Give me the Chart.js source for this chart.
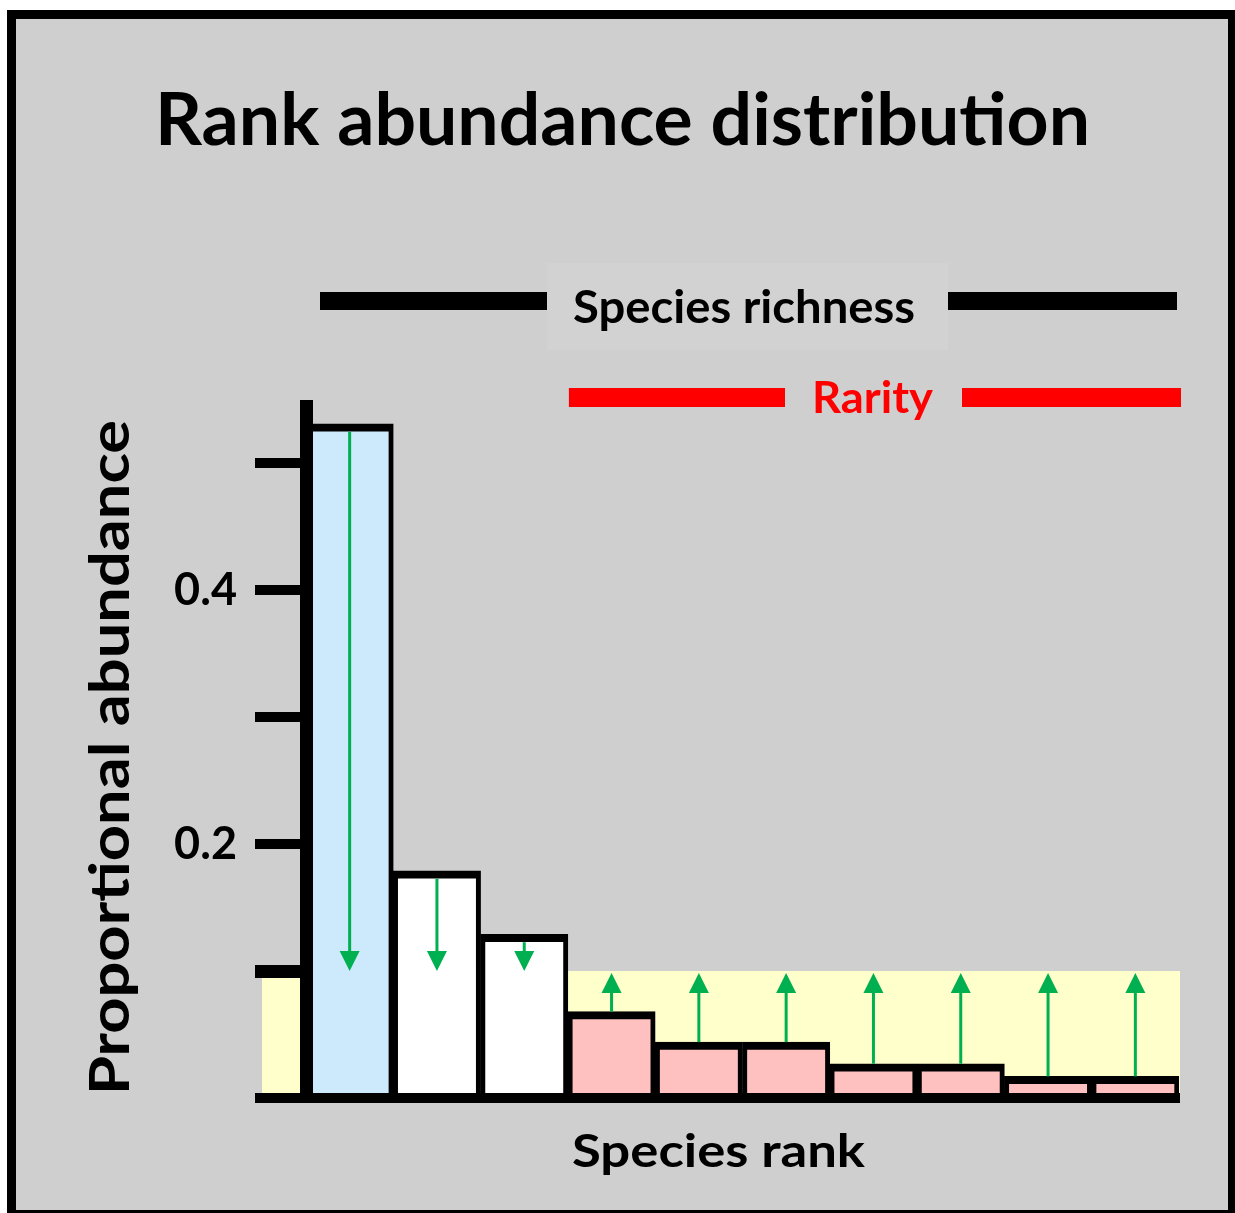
<!DOCTYPE html>
<html>
<head>
<meta charset="utf-8">
<script src="https://cdn.jsdelivr.net/npm/chart.js@4"></script>
<style>
  body { margin: 0; background: #fff; }
  #frame { position: absolute; left: 7px; top: 10px; width: 1212px; height: 1191px; border: 9px solid #000; background: #cfcfcf; }
  #chart { position: absolute; left: 0; top: 0; }
</style>
</head>
<body>
<div id="frame"></div>
<canvas id="chart" width="1235" height="1213"></canvas>
<script>
// Datos del gráfico
const ranks = ['1', '2', '3', '4', '5', '6', '7', '8', '9', '10'];
const abundance = [0.531, 0.179, 0.129, 0.068, 0.044, 0.044, 0.027, 0.027, 0.017, 0.017];
const meanAbundance = 0.1;
const labelledTicks = [0.2, 0.4];

const FONT = 'Lato';

// Texto ajustado a un ancho dado
function fitText(ctx, text, cx, baseline, size, width, color) {
  ctx.save();
  ctx.font = `bold ${size}px ${FONT}`;
  const w = ctx.measureText(text).width;
  ctx.translate(cx, baseline);
  ctx.scale(width / w, 1);
  ctx.textAlign = 'center';
  ctx.textBaseline = 'alphabetic';
  ctx.fillStyle = color;
  ctx.fillText(text, 0, 0);
  ctx.restore();
}

function arrow(ctx, x, y1, y2) {
  // línea de y1 a la punta en y2
  const dir = y2 > y1 ? 1 : -1;
  ctx.save();
  ctx.strokeStyle = '#00b050';
  ctx.fillStyle = '#00b050';
  ctx.lineWidth = 3;
  ctx.beginPath();
  ctx.moveTo(x, y1);
  ctx.lineTo(x, y2 - dir * 18);
  ctx.stroke();
  ctx.beginPath();
  ctx.moveTo(x - 10, y2 - dir * 20);
  ctx.lineTo(x + 10, y2 - dir * 20);
  ctx.lineTo(x, y2);
  ctx.closePath();
  ctx.fill();
  ctx.restore();
}

const decorations = {
  id: 'decorations',
  beforeDatasetsDraw(chart) {
    const { ctx, chartArea, scales: { y } } = chart;
    const yMean = y.getPixelForValue(meanAbundance);
    const y0 = y.getPixelForValue(0);
    ctx.save();
    ctx.fillStyle = '#ffffcc';
    ctx.fillRect(chartArea.left - 44, yMean, chartArea.right + 1 - (chartArea.left - 44), y0 - yMean);
    ctx.restore();
  },
  afterDatasetsDraw(chart) {
    const { ctx, scales: { y } } = chart;
    const yMean = y.getPixelForValue(meanAbundance);
    chart.getDatasetMeta(0).data.forEach((bar, i) => {
      if (abundance[i] > meanAbundance) arrow(ctx, bar.x, bar.y + 8, yMean);
      else arrow(ctx, bar.x, bar.y, yMean + 2);
    });
  },
  afterDraw(chart) {
    const { ctx, chartArea, scales: { x } } = chart;
    const half = (x.getPixelForValue(1) - x.getPixelForValue(0)) / 2;

    // Título
    fitText(ctx, 'Rank abundance distribution', 622.5, 145, 72, 935, '#000');

    // Riqueza de especies
    const richY = chartArea.top - 105;
    ctx.save();
    ctx.strokeStyle = '#000';
    ctx.lineWidth = 18;
    ctx.beginPath();
    ctx.moveTo(x.getPixelForValue(0) - half + 14, richY);
    ctx.lineTo(x.getPixelForValue(9) + half - 2, richY);
    ctx.stroke();
    ctx.fillStyle = '#d2d2d2';
    ctx.fillRect(547, richY - 38, 401, 87);
    ctx.restore();
    fitText(ctx, 'Species richness', 744, 323, 46, 342, '#000');

    // Rareza
    const rareY = chartArea.top - 8.5;
    const rareStart = x.getPixelForValue(3) - half + 1;
    ctx.save();
    ctx.strokeStyle = '#ff0000';
    ctx.lineWidth = 19;
    ctx.beginPath();
    ctx.moveTo(rareStart, rareY);
    ctx.lineTo(785, rareY);
    ctx.moveTo(962, rareY);
    ctx.lineTo(x.getPixelForValue(9) + half + 2, rareY);
    ctx.stroke();
    ctx.restore();
    fitText(ctx, 'Rarity', 872.5, 413, 43, 121, '#ff0000');

    // Títulos de ejes
    fitText(ctx, 'Species rank', 718.5, 1167, 45, 293, '#000');
    ctx.save();
    ctx.translate(129, 757.5);
    ctx.rotate(-Math.PI / 2);
    fitText(ctx, 'Proportional abundance', 0, 0, 56, 675, '#000');
    ctx.restore();
  }
};

const ctx = document.getElementById('chart').getContext('2d');
const chart = new Chart(ctx, {
  type: 'bar',
  data: {
    labels: ranks,
    datasets: [{
      data: abundance,
      backgroundColor: c => c.dataIndex === 0 ? '#cdeafd' : (abundance[c.dataIndex] > meanAbundance ? '#ffffff' : '#ffc0c0'),
      borderColor: '#000',
      borderWidth: { top: 8, left: 5, right: 5, bottom: 0 },
      borderSkipped: 'start',
      categoryPercentage: 1,
      barPercentage: 1
    }]
  },
  options: {
    responsive: false,
    animation: false,
    layout: { padding: { left: 0, top: 406, right: 56, bottom: 0 } },
    plugins: { legend: { display: false }, tooltip: { enabled: false } },
    scales: {
      x: {
        grid: { display: false },
        border: { display: true, color: '#000', width: 10, z: 1 },
        ticks: { display: false },
        afterFit: s => { s.height = 115; }
      },
      y: {
        min: 0,
        max: 0.545,
        grid: {
          z: 1,
          drawOnChartArea: false,
          color: '#000',
          lineWidth: c => Math.abs(c.tick.value - 0.1) < 1e-6 ? 13 : 10,
          tickLength: 51
        },
        border: { display: true, color: '#000', width: 13, z: 1 },
        ticks: {
          stepSize: 0.1,
          includeBounds: false,
          padding: 18,
          color: '#000',
          font: { family: FONT, weight: 'bold', size: 45 },
          callback: v => labelledTicks.some(t => Math.abs(t - v) < 1e-6) ? v.toFixed(1) : ''
        },
        afterFit: s => { s.width = 306; }
      }
    }
  },
  plugins: [decorations]
});
</script>
</body>
</html>
